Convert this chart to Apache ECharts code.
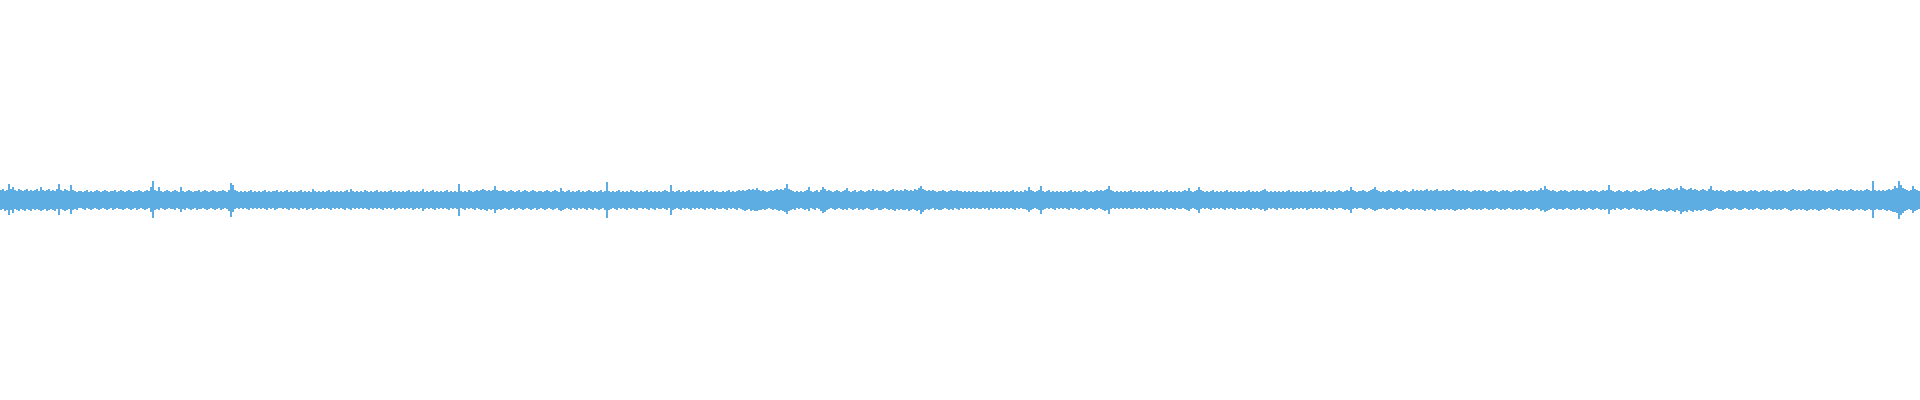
<!DOCTYPE html>
<html>
<head>
<meta charset="utf-8">
<script src="https://cdn.jsdelivr.net/npm/echarts@6/dist/echarts.min.js"></script>
<style>html,body{margin:0;padding:0;background:#fff;}#chart{width:1920px;height:400px;}</style>
</head>
<body>
<div id="chart"></div>
<script>
// Waveform peak amplitudes per 2px column (upper and lower envelope)
const upperPeaks = [
10,11,9,10,16,11,13,10,9,11, 10,9,10,11,9,10,9,10,11,9, 13,10,9,10,11,9,10,9,11,16, 10,9,11,10,9,15,10,9,8,9,
9,8,9,10,8,9,8,9,10,9, 8,9,10,9,8,9,9,10,8,9, 10,9,8,9,10,9,8,9,9,10, 9,8,9,10,9,13,19,10,9,13,
9,8,9,10,9,8,9,10,9,8, 13,9,8,9,10,9,8,9,9,10, 8,9,10,9,8,9,10,9,8,9, 9,10,9,8,10,17,15,10,9,8,
9,8,9,8,9,10,8,9,8,9, 8,9,10,8,9,8,9,9,10,8, 9,8,9,10,8,9,8,9,8,9, 10,8,9,8,9,8,11,9,8,9,
8,9,8,9,10,8,9,8,9,8, 9,8,9,10,8,11,9,8,9,8, 9,8,10,9,8,9,8,9,10,8, 9,8,9,8,9,10,8,9,8,9,
8,9,8,9,10,8,9,8,9,8, 9,11,8,9,8,9,10,8,9,8, 9,8,9,10,8,9,8,9,8,16, 9,8,9,8,10,9,8,9,10,9,
10,11,10,9,10,9,10,14,10,9, 9,10,9,8,9,10,9,8,9,10, 8,9,10,9,8,9,10,9,8,9, 9,8,9,10,9,8,9,10,9,8,
12,9,8,9,10,8,9,8,9,10, 8,9,8,9,10,9,8,9,8,9, 10,8,9,18,9,8,9,8,9,10, 8,9,8,9,8,10,9,8,9,8,
9,8,9,10,8,9,8,9,8,9, 8,9,10,9,8,15,9,8,9,10, 8,9,8,9,10,8,9,8,9,8, 9,10,8,9,8,9,10,8,9,8,
8,9,8,9,10,8,9,8,9,10, 9,10,9,10,11,10,11,10,12,10, 9,10,9,8,9,10,9,10,11,10, 11,10,12,16,11,10,9,8,9,8,
9,8,9,10,13,9,8,9,10,8, 10,13,11,9,10,9,8,9,10,9, 8,9,10,12,9,8,9,10,8,9, 10,9,8,9,10,9,11,9,10,9,
9,10,9,8,9,10,11,9,10,9, 10,9,11,10,9,10,9,11,10,12, 14,11,10,9,10,9,10,9,8,9, 9,10,9,8,9,10,9,9,10,9,
9,8,9,8,9,8,9,8,9,8, 8,9,8,9,8,10,8,9,8,9, 8,9,8,9,8,9,10,8,9,8, 9,8,10,9,13,10,9,8,9,10,
14,9,8,9,10,8,9,8,9,8, 9,8,9,8,9,10,8,9,8,9, 8,9,10,9,8,9,8,9,10,9, 10,9,10,11,14,10,9,8,9,8,
9,8,9,8,9,10,8,9,8,9, 8,9,8,9,8,9,10,8,9,8, 9,8,9,10,8,9,8,9,8,9, 8,9,10,9,12,9,8,9,10,13,
10,9,8,9,8,9,10,8,9,8, 9,8,9,10,8,9,8,9,8,9, 8,9,8,9,10,8,9,8,9,8, 9,10,11,9,8,9,8,9,8,9,
8,9,8,9,10,8,9,8,9,8, 9,8,9,8,9,10,8,9,8,9, 8,9,10,8,9,8,9,8,9,10, 9,8,9,10,9,13,10,9,8,9,
9,10,9,8,9,10,11,13,10,9, 8,9,8,9,10,9,8,9,10,9, 8,9,10,9,8,9,11,9,10,9, 10,9,10,11,9,10,9,10,11,9,
9,10,9,10,9,10,11,10,9,10, 9,10,9,10,9,8,9,10,9,10, 9,10,9,8,9,10,9,10,9,8, 9,10,9,10,9,8,9,10,9,10,
9,10,9,8,9,10,9,10,9,10, 12,10,14,11,10,9,10,9,8,9, 10,9,10,9,8,9,10,9,10,9, 9,10,9,8,9,10,9,10,9,8,
9,10,9,10,15,10,9,8,9,10, 9,8,9,10,9,8,9,10,9,8, 9,10,9,10,11,12,10,11,10,9, 10,11,10,11,12,11,10,11,12,10,
14,12,11,10,11,12,10,11,10,9, 10,11,10,9,11,14,10,9,10,9, 10,9,8,9,10,9,10,9,8,9, 9,10,9,8,9,10,9,10,9,8,
9,10,9,10,9,8,9,10,9,10, 9,10,9,8,9,10,11,10,9,10, 9,10,9,10,11,10,9,10,9,10, 9,10,9,8,9,10,9,10,11,10,
10,9,10,9,10,11,10,9,10,9, 10,9,10,11,10,9,19,10,9,10, 9,10,9,10,11,10,11,14,12,19, 15,12,11,10,9,10,14,11,10,9
];
const lowerPeaks = [
10,9,11,10,15,10,13,9,10,11, 9,10,11,9,10,11,9,10,9,10, 11,10,9,11,10,9,10,11,9,15, 9,10,11,10,9,14,10,9,10,8,
8,9,10,8,9,10,9,8,9,10, 9,8,9,10,9,8,10,9,8,9, 9,10,9,8,9,10,9,8,10,9, 8,9,10,9,8,12,18,10,9,10,
8,9,10,9,8,9,9,10,8,9, 12,9,10,8,9,10,9,8,10,9, 9,8,9,10,9,8,9,10,9,8, 10,9,8,9,11,17,12,9,8,9,
8,9,8,9,10,8,9,8,9,8, 9,8,9,10,8,9,8,10,9,8, 8,9,8,9,10,8,9,8,9,10, 8,9,8,10,9,8,10,9,8,9,
9,8,9,8,9,10,8,9,8,9, 8,9,10,8,9,10,8,9,8,9, 8,9,8,9,10,8,9,8,9,8, 9,10,8,9,8,9,8,10,9,8,
9,8,9,8,9,8,10,9,8,9, 8,11,9,8,9,8,9,10,8,9, 8,9,8,9,10,8,9,8,9,16, 8,9,10,8,9,8,9,10,8,9,
10,9,10,11,9,10,9,13,10,9, 10,9,8,9,10,9,8,10,9,8, 9,10,9,8,9,10,9,8,10,9, 8,9,10,9,8,9,10,9,8,10,
11,10,9,8,9,10,8,9,10,8, 9,8,9,10,8,9,10,8,9,10, 9,8,10,18,10,9,8,9,10,8, 9,8,9,10,8,9,8,9,10,8,
8,9,8,9,10,8,9,10,8,9, 9,8,9,10,8,15,10,9,8,9, 10,8,9,8,9,10,8,9,8,9, 8,9,10,8,9,8,9,10,8,9,
9,8,9,10,8,9,8,9,10,8, 9,10,11,10,9,11,10,11,11,10, 10,9,10,9,8,9,10,9,10,11, 10,11,12,14,11,10,9,10,8,9,
8,9,10,9,11,8,9,10,8,9, 11,13,12,10,9,8,9,10,9,8, 9,10,9,10,8,9,10,9,8,10, 9,10,9,8,9,10,10,9,8,10,
10,9,8,9,10,9,10,11,9,10, 9,10,10,9,11,10,9,10,11,10, 14,12,10,9,10,9,8,10,9,10, 10,9,8,9,10,9,10,8,9,10,
8,9,8,9,8,9,8,9,8,9, 9,8,9,8,10,8,9,8,9,8, 9,8,9,8,9,8,9,10,8,9, 8,9,9,10,12,10,9,8,9,10,
14,10,9,8,9,8,9,10,8,9, 8,9,8,9,10,8,9,8,9,10, 9,8,9,10,9,8,9,10,9,8, 9,10,11,10,14,9,8,9,8,9,
8,9,8,9,8,9,9,8,9,8, 9,8,9,10,8,9,8,9,8,9, 8,9,10,8,9,8,9,10,8,9, 9,8,9,10,11,9,8,9,10,13,
9,8,9,8,9,10,8,9,8,9, 8,9,10,8,9,8,9,10,8,9, 9,8,9,8,9,10,8,9,8,9, 10,9,11,10,8,9,8,9,10,8,
9,8,9,8,9,8,10,9,8,9, 8,9,8,10,9,8,9,8,9,8, 9,8,9,10,8,9,10,8,9,8, 8,9,10,9,10,13,9,8,9,8,
8,9,10,9,8,9,10,11,10,9, 9,8,9,10,9,8,9,10,9,8, 9,10,9,8,9,10,9,10,9,10, 9,10,11,9,10,9,10,11,9,10,
10,9,10,9,10,9,10,11,10,9, 10,9,10,9,8,9,10,9,10,9, 10,9,8,9,10,9,10,9,8,9, 10,9,10,9,8,9,10,9,10,9,
10,9,8,9,10,9,10,9,8,9, 11,10,12,11,10,9,8,9,10,9, 9,10,9,8,9,10,9,10,9,8, 10,9,10,9,8,9,10,9,8,9,
10,9,10,9,14,10,9,10,8,9, 10,9,8,9,10,9,8,9,10,9, 10,9,10,11,10,11,10,9,10,11, 11,10,11,12,11,10,11,12,10,11,
14,12,11,12,10,11,12,10,11,10, 11,10,9,10,11,11,10,9,8,9, 9,10,9,8,9,10,9,8,9,10, 10,9,8,9,10,9,10,9,8,9,
10,9,10,9,8,9,10,9,10,9, 10,9,8,9,10,11,10,9,10,9, 10,9,10,11,10,9,10,9,10,11, 10,9,10,9,8,9,10,9,10,11,
9,10,9,10,9,10,11,10,9,10, 9,10,11,10,9,10,18,10,9,10, 10,9,10,11,10,11,12,12,13,19, 15,13,11,10,9,10,13,11,10,9
];
const columns = upperPeaks.map((_, i) => i);
const waveColor = '#5dade2';

const chart = echarts.init(document.getElementById('chart'), null, {renderer: 'canvas'});
chart.setOption({
  animation: false,
  backgroundColor: '#ffffff',
  grid: {left: 0, right: 0, top: 0, bottom: 0, containLabel: false},
  xAxis: {type: 'category', data: columns, show: false, boundaryGap: true},
  yAxis: {type: 'value', min: -200, max: 200, show: false},
  series: [
    {type: 'bar', data: upperPeaks, barWidth: '100%', barGap: '-100%', itemStyle: {color: waveColor}, silent: true},
    {type: 'bar', data: lowerPeaks.map(v => -v), barWidth: '100%', barGap: '-100%', itemStyle: {color: waveColor}, silent: true}
  ]
});
</script>
</body>
</html>
